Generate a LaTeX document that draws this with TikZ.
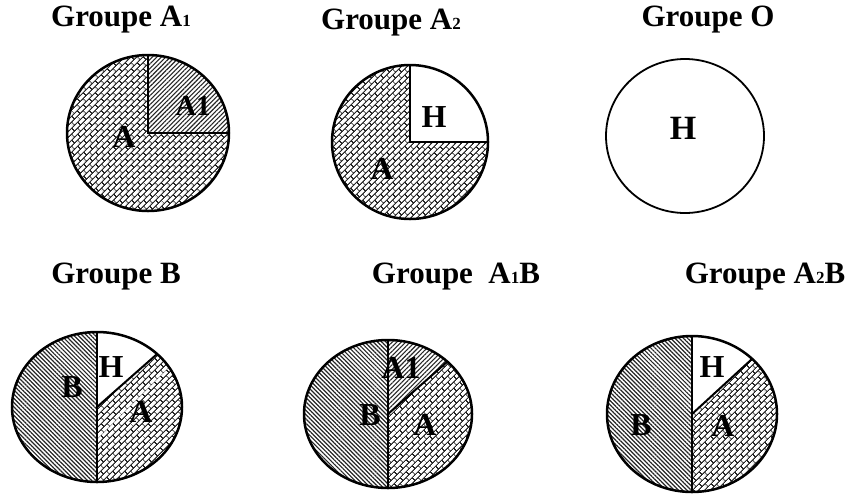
\documentclass[tikz,border=0pt]{standalone}
\usepackage{fontspec}
\setmainfont{Liberation Serif}
\usetikzlibrary{patterns,patterns.meta}

\tikzdeclarepattern{
  name=bricksdiag,
  type=uncolored,
  bounding box={(0,0) and (9pt,9pt)},
  tile size={(9pt,9pt)},
  tile transformation={rotate=45},
  code={
    \draw[line width=1.1pt] (0,2.25pt) -- (9pt,2.25pt) (0,6.75pt) -- (9pt,6.75pt)
      (2.25pt,2.25pt) -- (2.25pt,6.75pt) (6.75pt,6.75pt) -- (6.75pt,9pt) (6.75pt,0pt) -- (6.75pt,2.25pt);
  }
}

\newcommand{\sm}[1]{{\fontsize{17}{17}\selectfont #1}}

\begin{document}
\begin{tikzpicture}[x=1pt,y=1pt,
  title/.style={font=\fontsize{31}{31}\selectfont\bfseries, anchor=base, inner sep=0pt},
  lab/.style={font=\fontsize{32}{32}\selectfont\bfseries, inner sep=0pt},
  pA/.style={pattern=bricksdiag, pattern color=black!85},
  pB/.style={pattern={Lines[angle=-45,distance=3pt,line width=1.2pt]}, pattern color=black!85},
  pAone/.style={pattern={Lines[angle=45,distance=3.2pt,line width=1.1pt]}, pattern color=black!85},
  rim/.style={line width=2.5pt},
  divider/.style={line width=2pt}]

\useasboundingbox (0,0) rectangle (850,-499);

% ---------- titles
\node[title] (t1) at (121,-26) {Groupe A\sm{1}};
\node[title] (t2) at (391,-29) {Groupe A\sm{2}};
\node[title] (t3) at (708,-26) {Groupe O};
\node[title] (t4) at (116,-283) {Groupe B};
\node[title] (t5) at (456,-283) {Groupe\ \ A\sm{1}B};
\node[title] (t6) at (765,-283) {Groupe A\sm{2}B};

% ---------- pie 1 : Groupe A1
\coordinate (c1) at (148,-133);
\fill[pA] (c1) -- ++(0,78) arc[start angle=90,end angle=360,x radius=81,y radius=78] -- cycle;
\fill[pAone] (c1) -- ++(81,0) arc[start angle=0,end angle=90,x radius=81,y radius=78] -- cycle;
\draw[divider] (c1) ++(0,78) -- (c1) -- ++(81,0);
\draw[rim] (c1) ellipse[x radius=81,y radius=78];
\node[lab,font=\fontsize{29}{29}\selectfont\bfseries] (l1a) at (193,-106) {A1};
\node[lab] (l1b) at (124,-137) {A};

% ---------- pie 2 : Groupe A2
\coordinate (c2) at (410,-142);
\fill[pA] (c2) -- ++(0,77) arc[start angle=90,end angle=360,x radius=78,y radius=77] -- cycle;
\draw[divider] (c2) ++(0,77) -- (c2) -- ++(78,0);
\draw[rim] (c2) ellipse[x radius=78,y radius=77];
\node[lab] (l2a) at (434,-117) {H};
\node[lab] (l2b) at (382,-169) {A};

% ---------- pie 3 : Groupe O
\coordinate (c3) at (685,-136);
\draw[line width=1.8pt] (c3) ellipse[x radius=79,y radius=77];
\node[lab,font=\fontsize{34}{34}\selectfont\bfseries] (l3a) at (683,-128) {H};

% ---------- pie 4 : Groupe B
\coordinate (c4) at (97,-407);
\fill[pB] (c4) -- ++(0,75) arc[start angle=90,end angle=270,x radius=85,y radius=75] -- cycle;
\fill[pA] (c4) -- ++(0,-75) arc[start angle=-90,end angle=45,x radius=85,y radius=75] -- cycle;
\draw[divider] (c4) ++(0,75) -- ++(0,-150);
\draw[divider] (c4) -- ++({85*cos(45)},{75*sin(45)});
\draw[rim] (c4) ellipse[x radius=85,y radius=75];
\node[lab] (l4a) at (72,-387) {B};
\node[lab] (l4b) at (111,-367) {H};
\node[lab] (l4c) at (141,-412) {A};

% ---------- pie 5 : Groupe A1B
\coordinate (c5) at (388,-414);
\fill[pB] (c5) -- ++(0,74) arc[start angle=90,end angle=270,x radius=84,y radius=74] -- cycle;
\fill[pA] (c5) -- ++(0,-74) arc[start angle=-90,end angle=45,x radius=84,y radius=74] -- cycle;
\fill[pAone] (c5) -- ++({84*cos(45)},{74*sin(45)}) arc[start angle=45,end angle=90,x radius=84,y radius=74] -- cycle;
\draw[divider] (c5) ++(0,74) -- ++(0,-148);
\draw[divider] (c5) -- ++({84*cos(45)},{74*sin(45)});
\draw[rim] (c5) ellipse[x radius=84,y radius=74];
\node[lab] (l5a) at (401,-368) {A1};
\node[lab] (l5b) at (370,-415) {B};
\node[lab] (l5c) at (425,-425) {A};

% ---------- pie 6 : Groupe A2B
\coordinate (c6) at (692,-414);
\fill[pB] (c6) -- ++(0,78) arc[start angle=90,end angle=270,x radius=85,y radius=78] -- cycle;
\fill[pA] (c6) -- ++(0,-78) arc[start angle=-90,end angle=45,x radius=85,y radius=78] -- cycle;
\draw[divider] (c6) ++(0,78) -- ++(0,-156);
\draw[divider] (c6) -- ++({85*cos(45)},{78*sin(45)});
\draw[rim] (c6) ellipse[x radius=85,y radius=78];
\node[lab] (l6a) at (712,-367) {H};
\node[lab] (l6b) at (641,-425) {B};
\node[lab] (l6c) at (723,-426) {A};

\end{tikzpicture}
\end{document}
